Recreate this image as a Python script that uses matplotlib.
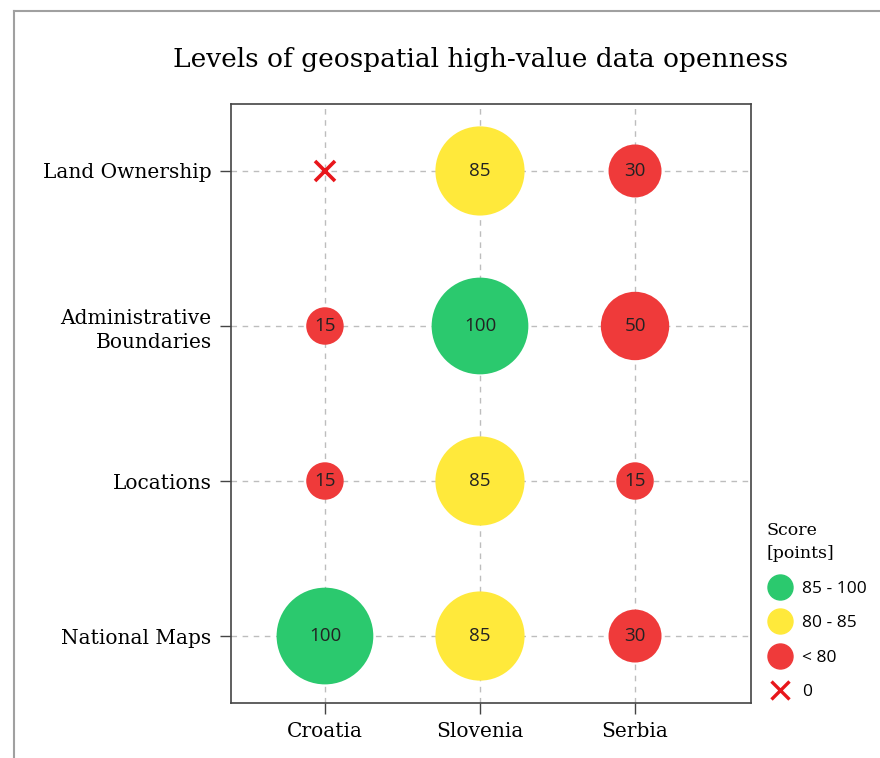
import matplotlib.pyplot as plt
from matplotlib.lines import Line2D

countries = ['Croatia', 'Slovenia', 'Serbia']
categories = ['National Maps', 'Locations', 'Administrative\nBoundaries', 'Land Ownership']
# one row per category, one value per country
scores = [
    [100, 85, 30],
    [15, 85, 15],
    [15, 100, 50],
    [0, 85, 30],
]

green = '#2bc96e'
yellow = '#ffe93b'
red = '#ef3a3a'
xred = '#e8161b'

serif = 'DejaVu Serif'
sans = 'Open Sans'


def score_color(v):
    if v > 85:
        return green
    if v >= 80:
        return yellow
    return red


fig = plt.figure(figsize=(8.8, 7.58), dpi=100)
ax = fig.add_axes([231 / 880, 1 - 703 / 758, 520 / 880, 599 / 758])

for yi, row in enumerate(scores):
    for xi, v in enumerate(row):
        if v == 0:
            ax.plot(xi, yi, marker='x', color=xred, markersize=14,
                    markeredgewidth=2.6, zorder=3)
            continue
        ax.scatter(xi, yi, s=v * 48.5, color=score_color(v), edgecolor='none', zorder=3)
        ax.text(xi, yi, str(v), ha='center', va='center', fontsize=13.5,
                family=sans, color='#222222', zorder=4)

ax.set_xlim(-0.606, 2.748)
ax.set_ylim(-0.432, 3.432)
ax.set_xticks(range(len(countries)))
ax.set_xticklabels(countries, family=serif, fontsize=14.5)
ax.set_yticks(range(len(categories)))
ax.set_yticklabels(categories, family=serif, fontsize=14.5, linespacing=1.35)
ax.grid(True, linestyle=(0, (4, 4)), color='#bdbdbd', linewidth=1)
ax.set_axisbelow(True)
ax.tick_params(length=8, width=1, color='#444444', pad=6)
for sp in ax.spines.values():
    sp.set_color('#444444')
    sp.set_linewidth(1.2)

fig.text(481 / 880, 1 - 60 / 758, 'Levels of geospatial high-value data openness',
         ha='center', va='center', family=serif, fontsize=19)

handles = [
    Line2D([], [], marker='o', linestyle='none', markersize=18, color=green, label='85 - 100'),
    Line2D([], [], marker='o', linestyle='none', markersize=18, color=yellow, label='80 - 85'),
    Line2D([], [], marker='o', linestyle='none', markersize=18, color=red, label='< 80'),
    Line2D([], [], marker='x', linestyle='none', markersize=13, markeredgewidth=2.4,
           color=xred, label='0'),
]
leg = fig.legend(handles=handles, loc='upper left', bbox_to_anchor=(760 / 880, 1 - 515 / 758),
                 frameon=False, title='Score\n[points]', alignment='left',
                 prop={'family': sans, 'size': 12.5}, handletextpad=0.5,
                 labelspacing=1.05, handlelength=1.5, borderaxespad=0)
leg.get_title().set_family(serif)
leg.get_title().set_fontsize(12.5)
leg.get_title().set_linespacing(1.5)

# thin grey frame on top and left of the picture
fig.add_artist(Line2D([14 / 880, 1], [1 - 11 / 758, 1 - 11 / 758], color='#a0a0a0', lw=1.5))
fig.add_artist(Line2D([14 / 880, 14 / 880], [0, 1 - 11 / 758], color='#a0a0a0', lw=1.5))

fig.savefig('out.png', dpi=100)
